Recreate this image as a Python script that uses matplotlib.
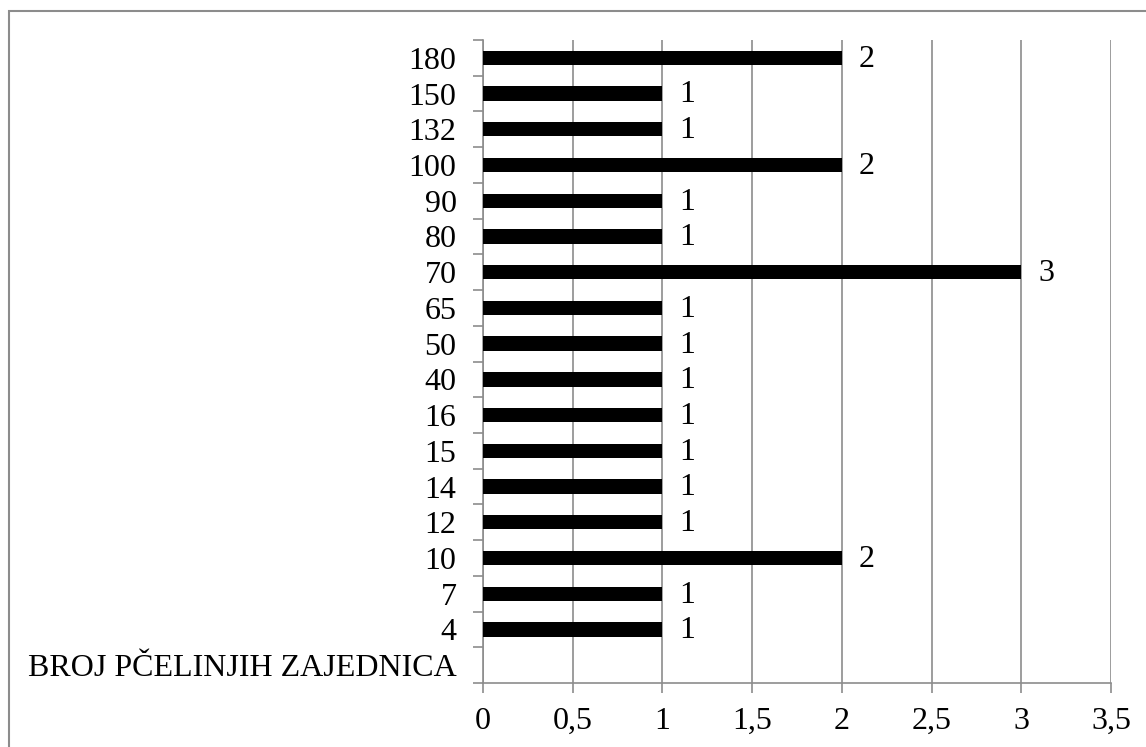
import matplotlib.pyplot as plt
from matplotlib.patches import Rectangle
import numpy as np

# categories from bottom to top
categories = ['BROJ PČELINJIH ZAJEDNICA', '4', '7', '10', '12', '14', '15', '16',
              '40', '50', '65', '70', '80', '90', '100', '132', '150', '180']
values = [np.nan, 1, 1, 2, 1, 1, 1, 1, 1, 1, 1, 3, 1, 1, 2, 1, 1, 2]
x_ticks = [0, 0.5, 1, 1.5, 2, 2.5, 3, 3.5]
x_ticklabels = ['0', '0,5', '1', '1,5', '2', '2,5', '3', '3,5']

plt.rcParams['font.family'] = ['Liberation Serif', 'DejaVu Serif']
grey = '#8c8c8c'
fs = 23

fig = plt.figure(figsize=(11.46, 7.47), dpi=100)
ax = fig.add_axes([483 / 1146, 1 - 683 / 747, (1111 - 483) / 1146, (683 - 40) / 747])

# outer chart border (right and bottom edges fall outside the image)
fig.patches.append(Rectangle((9 / 1146, -0.1), 1.2, 1.1 - 11 / 747,
                             transform=fig.transFigure, fill=False,
                             edgecolor=grey, linewidth=1.5))

y = np.arange(len(categories))
vals = np.array(values, dtype=float)
mask = ~np.isnan(vals)
ax.barh(y[mask], vals[mask], height=0.4, color='black', zorder=3)

for yi, v in zip(y[mask], vals[mask]):
    ax.annotate(f'{v:g}', (v, yi), xytext=(12, -1), textcoords='offset points',
                va='center', ha='left', fontsize=fs)

ax.set_xlim(0, 3.5)
ax.set_ylim(-0.5, len(categories) - 0.5)
ax.set_xticks(x_ticks)
ax.set_xticklabels(x_ticklabels, fontsize=fs)
ax.set_yticks(y)
ax.set_yticklabels(categories, fontsize=fs)
ax.tick_params(axis='y', length=0, pad=19)
ax.set_yticks(np.arange(-0.5, len(categories), 1), minor=True)
ax.tick_params(axis='y', which='minor', length=7, color=grey, width=1.2)
ax.tick_params(axis='x', length=7, color=grey, width=1.2, pad=10)

ax.grid(axis='x', color=grey, linewidth=1.2, zorder=0)
for s in ['top', 'right']:
    ax.spines[s].set_visible(False)
for s in ['left', 'bottom']:
    ax.spines[s].set_color(grey)
    ax.spines[s].set_linewidth(1.2)

fig.savefig('out.png', dpi=100)
